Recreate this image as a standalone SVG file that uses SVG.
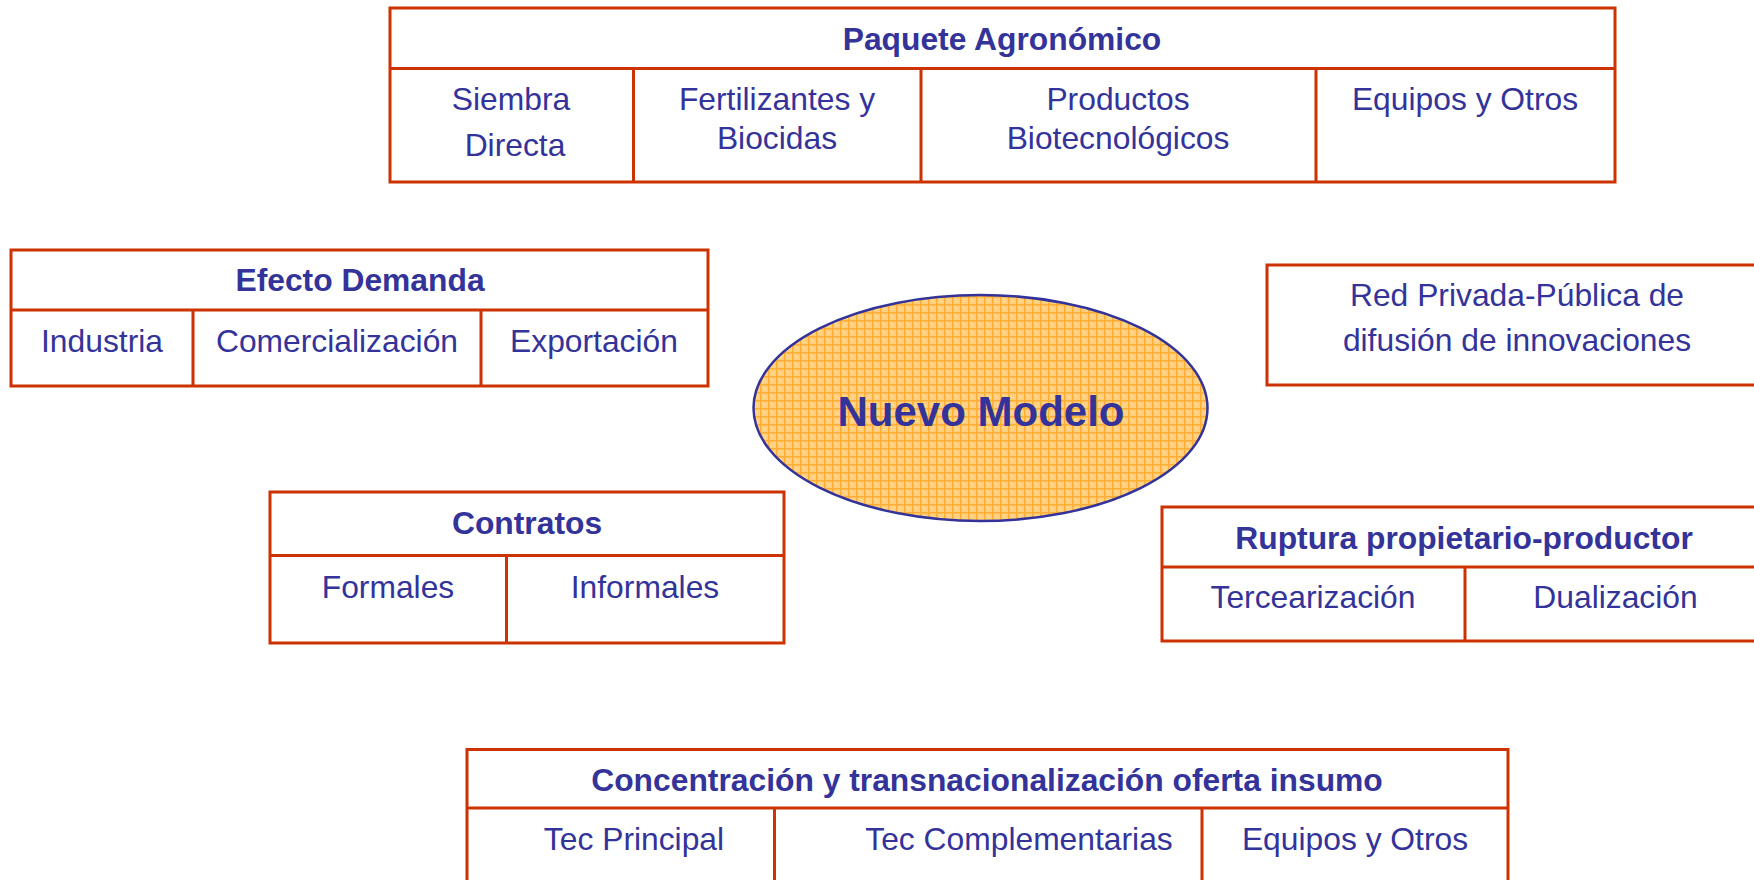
<svg xmlns="http://www.w3.org/2000/svg" width="1754" height="880" viewBox="0 0 1754 880">
<defs>
<style>
.box{fill:#FFFFFF;stroke:#CC3300;stroke-width:3}
.ln{stroke:#CC3300;stroke-width:3;fill:none}
.t{font-family:"Liberation Sans",Arial,sans-serif;font-size:31.8px;fill:#333399;text-anchor:middle}
.h{font-weight:bold}
.big{font-family:"Liberation Sans",Arial,sans-serif;font-size:42px;font-weight:bold;fill:#333399;text-anchor:middle}
</style>
<pattern id="grid" width="8" height="8" patternUnits="userSpaceOnUse">
<rect width="8" height="8" fill="#FFCF80"/>
<path d="M0 0.75H8M0.75 0V8" stroke="#FFAE35" stroke-width="1.5"/>
<rect x="3" y="3" width="1" height="1" fill="#FFEBC4"/>
<rect x="5" y="5" width="1" height="1" fill="#FFEBC4"/>
<rect x="3" y="5" width="1" height="1" fill="#FFDDA0"/>
<rect x="5" y="3" width="1" height="1" fill="#FFDDA0"/>
</pattern>
</defs>
<rect width="1754" height="880" fill="#FFFFFF"/>

<g id="paquete-agronomico">
<rect class="box" x="390" y="8" width="1225" height="174"/>
<path class="ln" d="M390 68.5H1615M633.5 68.5V182M921 68.5V182M1316 68.5V182"/>
<text class="t h" x="1002" y="50">Paquete Agronómico</text>
<text class="t" x="511" y="109.5">Siembra</text>
<text class="t" x="515" y="155.5">Directa</text>
<text class="t" x="777" y="109.5">Fertilizantes y</text>
<text class="t" x="777" y="148.5">Biocidas</text>
<text class="t" x="1118" y="109.5">Productos</text>
<text class="t" x="1118" y="148.5">Biotecnológicos</text>
<text class="t" x="1465" y="109.5">Equipos y Otros</text>
</g>

<g id="efecto-demanda">
<rect class="box" x="11" y="250" width="697" height="136"/>
<path class="ln" d="M11 310H708M193 310V386M481 310V386"/>
<text class="t h" x="360" y="291">Efecto Demanda</text>
<text class="t" x="102" y="351.5">Industria</text>
<text class="t" x="337" y="351.5">Comercialización</text>
<text class="t" x="594" y="351.5">Exportación</text>
</g>

<g id="red-privada-publica">
<rect class="box" x="1267" y="265" width="520" height="120"/>
<text class="t" x="1517" y="306">Red Privada-Pública de</text>
<text class="t" x="1517" y="351">difusión de innovaciones</text>
</g>

<g id="nuevo-modelo">
<ellipse cx="980.5" cy="408" rx="227" ry="113" fill="url(#grid)" stroke="#333399" stroke-width="2.5"/>
<text class="big" x="981" y="426">Nuevo Modelo</text>
</g>

<g id="contratos">
<rect class="box" x="270" y="492" width="514" height="151"/>
<path class="ln" d="M270 555.5H784M506.5 555.5V643"/>
<text class="t h" x="527" y="534">Contratos</text>
<text class="t" x="388" y="598">Formales</text>
<text class="t" x="645" y="598">Informales</text>
</g>

<g id="ruptura">
<rect class="box" x="1162" y="507" width="604" height="134"/>
<path class="ln" d="M1162 567H1766M1465 567V641"/>
<text class="t h" x="1464" y="549">Ruptura propietario-productor</text>
<text class="t" x="1313" y="608">Tercearización</text>
<text class="t" x="1615.5" y="608">Dualización</text>
</g>

<g id="concentracion">
<rect class="box" x="467" y="749.5" width="1041" height="200"/>
<path class="ln" d="M467 808H1508M774.5 808V890M1202 808V890"/>
<text class="t h" x="987" y="791">Concentración y transnacionalización oferta insumo</text>
<text class="t" x="634" y="849.5">Tec Principal</text>
<text class="t" x="1019" y="849.5">Tec Complementarias</text>
<text class="t" x="1355" y="849.5">Equipos y Otros</text>
</g>
</svg>
